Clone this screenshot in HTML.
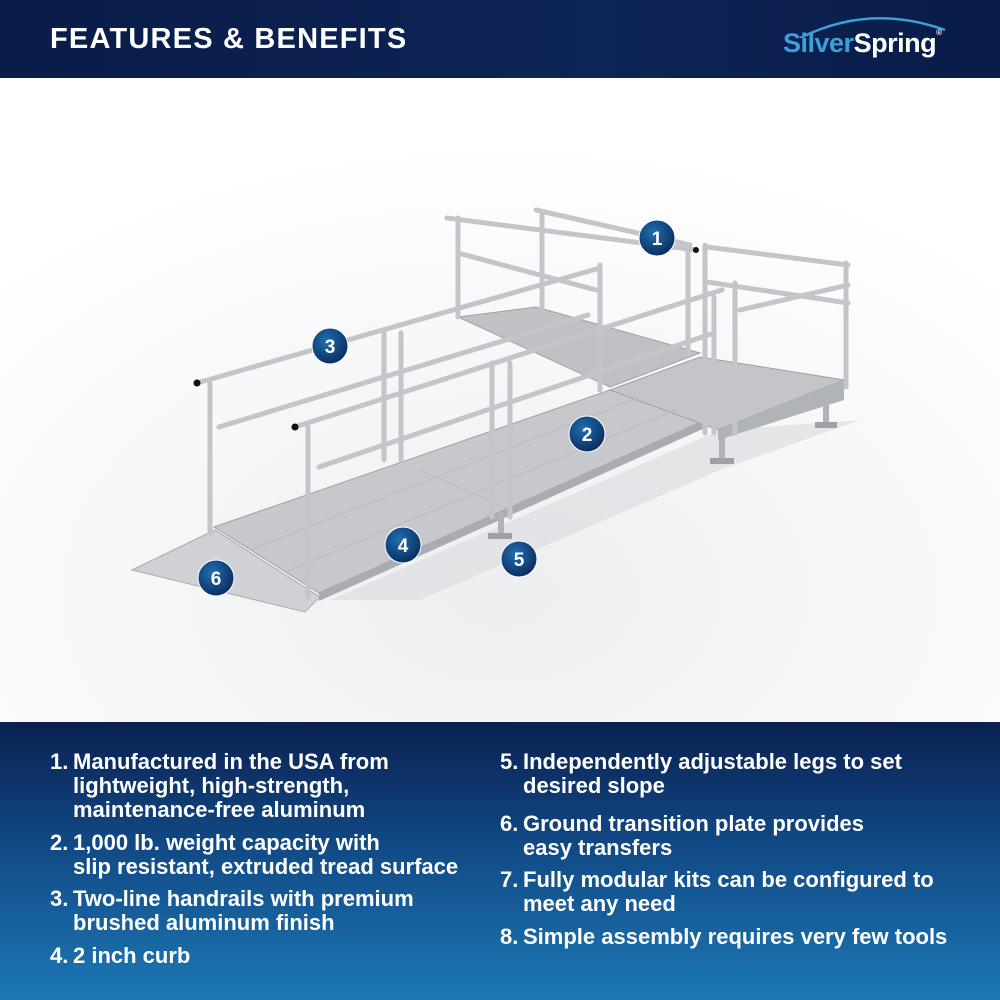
<!DOCTYPE html>
<html><head><style>
*{margin:0;padding:0}
body{width:1000px;height:1000px;position:relative;overflow:hidden;background:#fff;font-family:"Liberation Sans",sans-serif}
.hdr{position:absolute;left:0;top:0;width:1000px;height:78px;background:linear-gradient(90deg,#0a1c48,#0c2456 60%,#0a1c48)}
.ttl{position:absolute;left:50px;top:23px;color:#fff;font-weight:bold;font-size:29px;letter-spacing:1.2px}
.logo{position:absolute;left:783px;top:28px;font-weight:bold;font-size:27px;letter-spacing:-0.5px}
.bot{position:absolute;left:0;top:722px;width:1000px;height:278px;background:linear-gradient(180deg,#0a2050 0%,#114a86 45%,#1c78b4 100%)}
.t{position:absolute;color:#fff;font-weight:bold;font-size:22px;white-space:nowrap;line-height:24px}
</style></head><body>
<div class="hdr"></div>
<div class="ttl">FEATURES &amp; BENEFITS</div>
<svg style="position:absolute;left:780px;top:8px" width="170" height="30"><path d="M20 30 Q90 -5 165 22" stroke="#3aa0d8" stroke-width="2.5" fill="none"/></svg>
<div class="logo"><span style="color:#3aa0d8">Silver</span><span style="color:#fff">Spring</span><span style="color:#fff;font-size:8px;vertical-align:top">®</span></div>

<svg style="position:absolute;left:0;top:78px" width="1000" height="644" viewBox="0 78 1000 644">
<defs><radialGradient id="fl" cx="0.5" cy="0.8" r="0.7"><stop offset="0" stop-color="#eceef0"/><stop offset="1" stop-color="#fff"/></radialGradient>
<radialGradient id="bd" cx="0.4" cy="0.35" r="0.7"><stop offset="0" stop-color="#1f6fb0"/><stop offset="1" stop-color="#0a2a5c"/></radialGradient></defs>
<rect x="0" y="78" width="1000" height="644" fill="url(#fl)"/>
<polygon points="330,600 720,430 860,420 720,470 420,600" fill="#d9dbde" opacity=".6"/>
<polygon points="132,570 215,530 320,597 305,612" fill="#cfd1d4" stroke="#a8abaf"/>
<polygon points="214,527 610,390 705,420 319,593" fill="#c6c8cb" stroke="#9ea1a5"/>
<polygon points="319,593 705,420 705,428 319,601" fill="#a9acb0"/>
<polygon points="458,317 536,307 700,353 610,387" fill="#bfc1c4" stroke="#9ea1a5"/>
<polygon points="610,390 700,357 844,380 718,430" fill="#c3c5c8" stroke="#9ea1a5"/>
<polygon points="718,430 844,380 844,400 718,440" fill="#b0b3b7"/>
<g stroke="#b8bbbf" stroke-width="1">
<line x1="250" y1="550" x2="640" y2="397"/><line x1="285" y1="572" x2="675" y2="410"/>
<line x1="420" y1="470" x2="510" y2="510"/>
</g>
<g stroke="#b0b3b7" stroke-width="6">
<line x1="722" y1="430" x2="722" y2="460"/><line x1="826" y1="400" x2="826" y2="423"/><line x1="501" y1="513" x2="501" y2="533"/></g>
<g fill="#9ea1a5"><rect x="710" y="458" width="24" height="6"/><rect x="815" y="422" width="22" height="6"/><rect x="488" y="533" width="24" height="6"/></g>
<g stroke="#c2c5c9" stroke-width="5" stroke-linecap="round" fill="none">
<line x1="447" y1="218" x2="696" y2="250"/><line x1="536" y1="210" x2="690" y2="245"/>
<line x1="458" y1="253" x2="596" y2="290"/>
<line x1="458" y1="218" x2="458" y2="317"/><line x1="542" y1="213" x2="542" y2="310"/><line x1="688" y1="250" x2="688" y2="353"/>
<line x1="707" y1="247" x2="848" y2="265"/><line x1="707" y1="282" x2="848" y2="303"/><line x1="740" y1="310" x2="848" y2="285"/>
<line x1="705" y1="245" x2="705" y2="433"/><line x1="735" y1="283" x2="735" y2="433"/><line x1="846" y1="263" x2="846" y2="387"/>
<line x1="600" y1="265" x2="600" y2="390"/>
<line x1="197" y1="383" x2="600" y2="268"/><line x1="219" y1="427" x2="588" y2="315"/>
<line x1="210" y1="383" x2="210" y2="533"/><line x1="384" y1="333" x2="384" y2="460"/><line x1="401" y1="333" x2="401" y2="460"/>
<line x1="295" y1="427" x2="722" y2="290"/><line x1="319" y1="467" x2="714" y2="333"/>
<line x1="308" y1="427" x2="308" y2="597"/><line x1="492" y1="363" x2="492" y2="517"/><line x1="510" y1="363" x2="510" y2="517"/><line x1="714" y1="297" x2="714" y2="433"/>
</g>
<g fill="#111"><circle cx="197" cy="383" r="3.5"/><circle cx="295" cy="427" r="3.5"/><circle cx="696" cy="250" r="3"/></g>
<g font-family="Liberation Sans,sans-serif" font-weight="bold" font-size="19" fill="#fff" text-anchor="middle">
<g><circle cx="657" cy="238" r="18" fill="url(#bd)" stroke="#fff" stroke-width="1"/><text x="657" y="245">1</text></g>
<g><circle cx="587" cy="434" r="18" fill="url(#bd)" stroke="#fff" stroke-width="1"/><text x="587" y="441">2</text></g>
<g><circle cx="330" cy="346" r="18" fill="url(#bd)" stroke="#fff" stroke-width="1"/><text x="330" y="353">3</text></g>
<g><circle cx="403" cy="545" r="18" fill="url(#bd)" stroke="#fff" stroke-width="1"/><text x="403" y="552">4</text></g>
<g><circle cx="519" cy="559" r="18" fill="url(#bd)" stroke="#fff" stroke-width="1"/><text x="519" y="566">5</text></g>
<g><circle cx="216" cy="578" r="18" fill="url(#bd)" stroke="#fff" stroke-width="1"/><text x="216" y="585">6</text></g>
</g>
</svg>

<div class="bot"></div>
<div class="t" style="left:50px;top:750px">1.</div>
<div class="t" style="left:73px;top:750px">Manufactured in the USA from<br>lightweight, high-strength,<br>maintenance-free aluminum</div>
<div class="t" style="left:50px;top:831px">2.</div>
<div class="t" style="left:73px;top:831px">1,000 lb. weight capacity with<br>slip resistant, extruded tread surface</div>
<div class="t" style="left:50px;top:887px">3.</div>
<div class="t" style="left:73px;top:887px">Two-line handrails with premium<br>brushed aluminum finish</div>
<div class="t" style="left:50px;top:944px">4.</div>
<div class="t" style="left:73px;top:944px">2 inch curb</div>
<div class="t" style="left:500px;top:750px">5.</div>
<div class="t" style="left:523px;top:750px">Independently adjustable legs to set<br>desired slope</div>
<div class="t" style="left:500px;top:812px">6.</div>
<div class="t" style="left:523px;top:812px">Ground transition plate provides<br>easy transfers</div>
<div class="t" style="left:500px;top:868px">7.</div>
<div class="t" style="left:523px;top:868px">Fully modular kits can be configured to<br>meet any need</div>
<div class="t" style="left:500px;top:925px">8.</div>
<div class="t" style="left:523px;top:925px">Simple assembly requires very few tools</div>
</body></html>
